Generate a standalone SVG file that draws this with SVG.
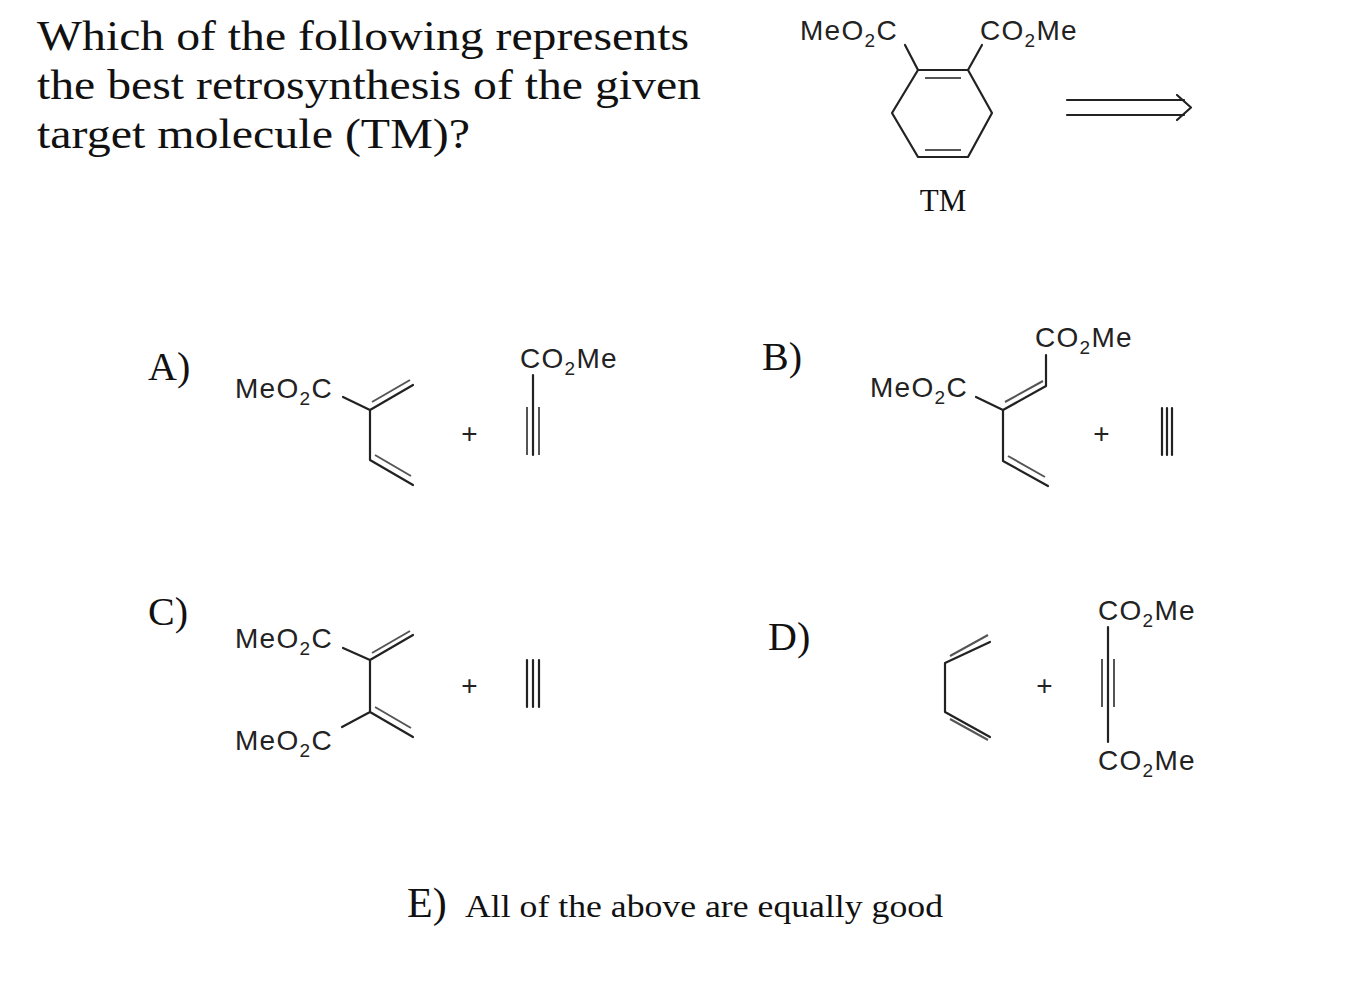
<svg xmlns="http://www.w3.org/2000/svg" width="1370" height="992" viewBox="0 0 1370 992">
<style>
.q{font-family:"Liberation Serif",serif;fill:#111}
.s{font-family:"Liberation Sans",Arial,sans-serif;font-size:28px;letter-spacing:1.3px;fill:#222}
.b{stroke:#222;stroke-width:2.2;fill:none;stroke-linecap:round;stroke-linejoin:round}
.g{stroke:#555;stroke-width:2;fill:none}
</style>
<rect width="1370" height="992" fill="#fff"/>
<g class="q" font-size="43">
<text x="37" y="50" textLength="652" lengthAdjust="spacingAndGlyphs">Which of the following represents</text>
<text x="37" y="99" textLength="664" lengthAdjust="spacingAndGlyphs">the best retrosynthesis of the given</text>
<text x="37" y="148" textLength="433" lengthAdjust="spacingAndGlyphs">target molecule (TM)?</text>
</g>
<g id="tm">
<text class="s" x="800" y="40">MeO<tspan font-size="19" dy="7">2</tspan><tspan dy="-7">C</tspan></text>
<text class="s" x="980" y="40">CO<tspan font-size="19" dy="7">2</tspan><tspan dy="-7">Me</tspan></text>
<path class="b" d="M918,70 L968,70 L992,113 L968,157 L918,157 L892,113 Z M905,45 L918,70 M968,70 L982,45"/>
<path class="g" d="M925,78 H961 M925,150 H961"/>
<text class="q" x="943" y="211" font-size="31" text-anchor="middle">TM</text>
</g>
<g id="arrow">
<path class="b" d="M1067,100 H1184 M1067,115 H1184 M1177,95 L1191,107.5 L1177,120"/>
</g>
<g id="optA">
<text class="q" x="148" y="380" font-size="40">A)</text>
<text class="s" x="235" y="398">MeO<tspan font-size="19" dy="7">2</tspan><tspan dy="-7">C</tspan></text>
<path class="b" d="M343,397 L370,410 L413,385 M370,410 V460 L413,485"/>
<path class="g" d="M372,402 L410,380 M375,455 L411,476"/>
<text class="s" x="470" y="443" text-anchor="middle">+</text>
<text class="s" x="520" y="368">CO<tspan font-size="19" dy="7">2</tspan><tspan dy="-7">Me</tspan></text>
<path class="b" d="M533,375 V455"/>
<path class="g" d="M527,407 V455 M539,407 V455"/>
</g>
<g id="optB">
<text class="q" x="762" y="370" font-size="40">B)</text>
<text class="s" x="870" y="397">MeO<tspan font-size="19" dy="7">2</tspan><tspan dy="-7">C</tspan></text>
<text class="s" x="1035" y="347">CO<tspan font-size="19" dy="7">2</tspan><tspan dy="-7">Me</tspan></text>
<path class="b" d="M976,397 L1003,410 L1046,386 V355 M1003,410 V461 L1048,486"/>
<path class="g" d="M1005,402 L1043,381 M1008,456 L1045,477"/>
<text class="s" x="1102" y="443" text-anchor="middle">+</text>
<path class="b" d="M1162,408 V455 M1167,408 V455 M1172,408 V455"/>
</g>
<g id="optC">
<text class="q" x="148" y="625" font-size="40">C)</text>
<text class="s" x="235" y="648">MeO<tspan font-size="19" dy="7">2</tspan><tspan dy="-7">C</tspan></text>
<text class="s" x="235" y="750">MeO<tspan font-size="19" dy="7">2</tspan><tspan dy="-7">C</tspan></text>
<path class="b" d="M343,648 L370,660 L413,635 M370,660 V712 L413,737 M370,712 L342,727"/>
<path class="g" d="M372,653 L410,631 M375,707 L411,728"/>
<text class="s" x="470" y="695" text-anchor="middle">+</text>
<path class="b" d="M527,660 V707 M533,660 V707 M539,660 V707"/>
</g>
<g id="optD">
<text class="q" x="768" y="650" font-size="40">D)</text>
<path class="b" d="M990,642 L945,663 V712 L990,737"/>
<path class="g" d="M988,635 L950,656 M950,719 L988,740"/>
<text class="s" x="1045" y="695" text-anchor="middle">+</text>
<text class="s" x="1098" y="620">CO<tspan font-size="19" dy="7">2</tspan><tspan dy="-7">Me</tspan></text>
<text class="s" x="1098" y="770">CO<tspan font-size="19" dy="7">2</tspan><tspan dy="-7">Me</tspan></text>
<path class="b" d="M1108,627 V742"/>
<path class="g" d="M1102,659 V707 M1114,659 V707"/>
</g>
<g id="optE" class="q">
<text x="407" y="917" font-size="42">E)</text>
<text x="465" y="917" font-size="32" textLength="478" lengthAdjust="spacingAndGlyphs">All of the above are equally good</text>
</g>
</svg>
